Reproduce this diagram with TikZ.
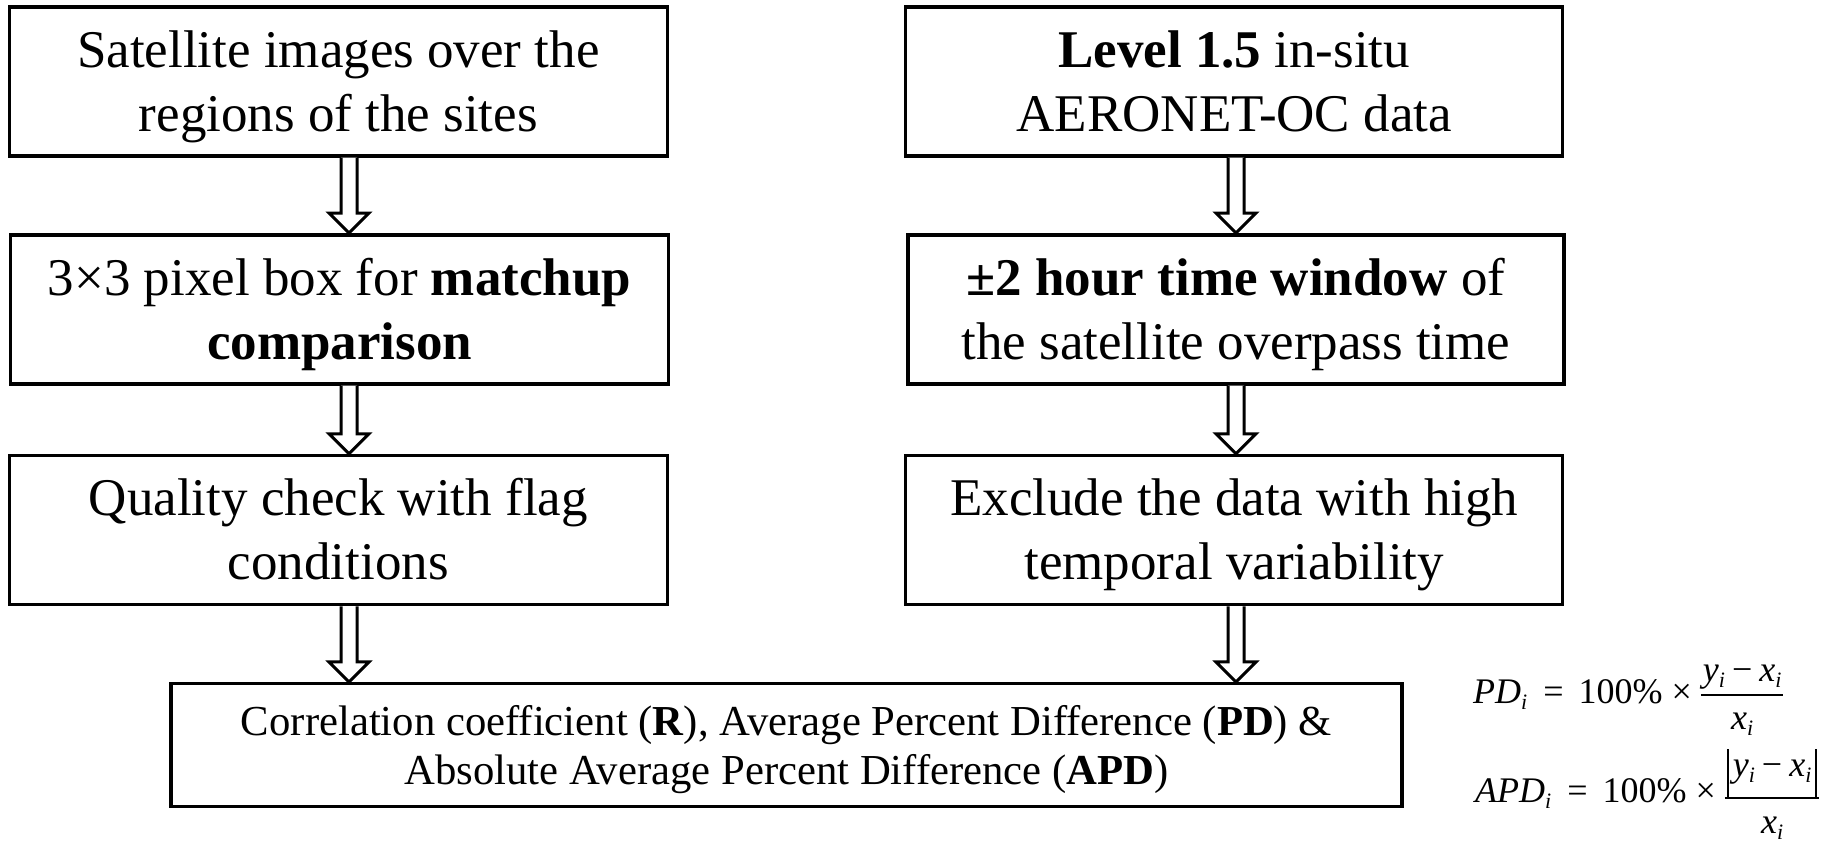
\documentclass[tikz,border=0pt]{standalone}
\usepackage{fontspec}
\setmainfont{Liberation Serif}
\usetikzlibrary{calc}
\newcommand\ftop{\rule{0pt}{0.89em}}
\newcommand\fbot{\rule[-0.22em]{0pt}{0pt}}
\newcommand\isub{\raisebox{-6pt}{\fontsize{22}{22}\selectfont\itshape i}}
\newcommand\tbar{\vrule width 2pt height 27pt depth 22pt}
\newcommand\fr[5]{%
  \setbox0=\hbox{#1}\setbox2=\hbox{#2}%
  \dimen0=\wd0 \ifdim\wd2>\dimen0 \dimen0=\wd2 \fi
  \advance\dimen0 by 4pt
  \hbox{\raise#3\hbox to\dimen0{\hfil\box0\hfil}\kern-\dimen0
        \lower#5\hbox to\dimen0{\hfil\box2\hfil}\kern-\dimen0
        \raise#4\hbox{\vrule width\dimen0 height 2pt depth 0pt}}}
\newcommand\ynum{{\itshape y}\isub\hspace{7pt}−\hspace{7pt}{\itshape x}\isub}
\tikzset{
  box/.style={draw, line width=3.5pt, inner sep=0pt, align=center,
    font=\fontsize{53}{64}\selectfont},
  bigbox/.style={draw, line width=3.5pt, inner sep=0pt, align=center,
    font=\fontsize{42.7}{49}\selectfont},
  arrowline/.style={draw, line width=3pt, fill=white, line join=miter},
  formula/.style={inner sep=0pt, anchor=base west, font=\fontsize{36}{42}\selectfont}
}
\newcommand\hollowarr[2]{%
  \path[arrowline] ($(#1)+(-8,0)$) -- ($(#2)+(-8,-20)$) -- ($(#2)+(-20,-20)$)
    -- (#2) -- ($(#2)+(20,-20)$) -- ($(#2)+(8,-20)$) -- ($(#1)+(8,0)$);%
}
\begin{document}
\begin{tikzpicture}[x=1pt,y=-1pt]
\useasboundingbox (0,0) rectangle (1823,842);
\node[box, minimum width=658pt, minimum height=149pt] (A) at (338.3,81.4)
  {\ftop Satellite images over the\\regions of the sites\fbot};
\node[box, minimum width=657pt, minimum height=149pt] (B) at (1234.2,81.4)
  {\ftop\textbf{Level 1.5} in-situ\\AERONET-OC data\fbot};
\node[box, minimum width=658pt, minimum height=149pt] (C) at (339.5,309.3)
  {\ftop 3×3 pixel box for \textbf{matchup}\\\textbf{comparison}\fbot};
\node[box, minimum width=656pt, minimum height=149pt] (D) at (1235.9,309.3)
  {\ftop\textbf{±2 hour time window} of\\the satellite overpass time\fbot};
\node[box, minimum width=658pt, minimum height=149pt] (E) at (338.3,530.1)
  {\ftop Quality check with flag\\conditions\fbot};
\node[box, minimum width=657pt, minimum height=149pt] (F) at (1234.2,530.1)
  {\ftop Exclude the data with high\\temporal variability\fbot};
\node[bigbox, minimum width=1231pt, minimum height=123pt] (G) at (786.5,745.2)
  {\ftop Correlation coefficient (\textbf{R}), Average Percent Difference (\textbf{PD}) \&\\Absolute Average Percent Difference (\textbf{APD})\fbot};
\node[formula] (PD) at (1473,703)
  {{\itshape PD}\isub\hspace{16pt}=\hspace{15pt}100\%\hspace{9pt}×\hspace{9pt}\fr{\ynum}{{\itshape x}\isub}{22pt}{7pt}{26pt}};
\node[formula] (APD) at (1475,802)
  {{\itshape APD}\isub\hspace{16pt}=\hspace{15pt}100\%\hspace{9pt}×\hspace{9pt}\fr{\tbar\hspace{4pt}\ynum\hspace{4pt}\tbar}{{\itshape x}\isub}{26pt}{3pt}{31pt}};
\coordinate (lx) at (349,0);
\coordinate (rx) at (1236,0);
\hollowarr{A.south -| lx}{C.north -| lx}
\hollowarr{C.south -| lx}{E.north -| lx}
\hollowarr{E.south -| lx}{G.north -| lx}
\hollowarr{B.south -| rx}{D.north -| rx}
\hollowarr{D.south -| rx}{F.north -| rx}
\hollowarr{F.south -| rx}{G.north -| rx}
\end{tikzpicture}
\end{document}
